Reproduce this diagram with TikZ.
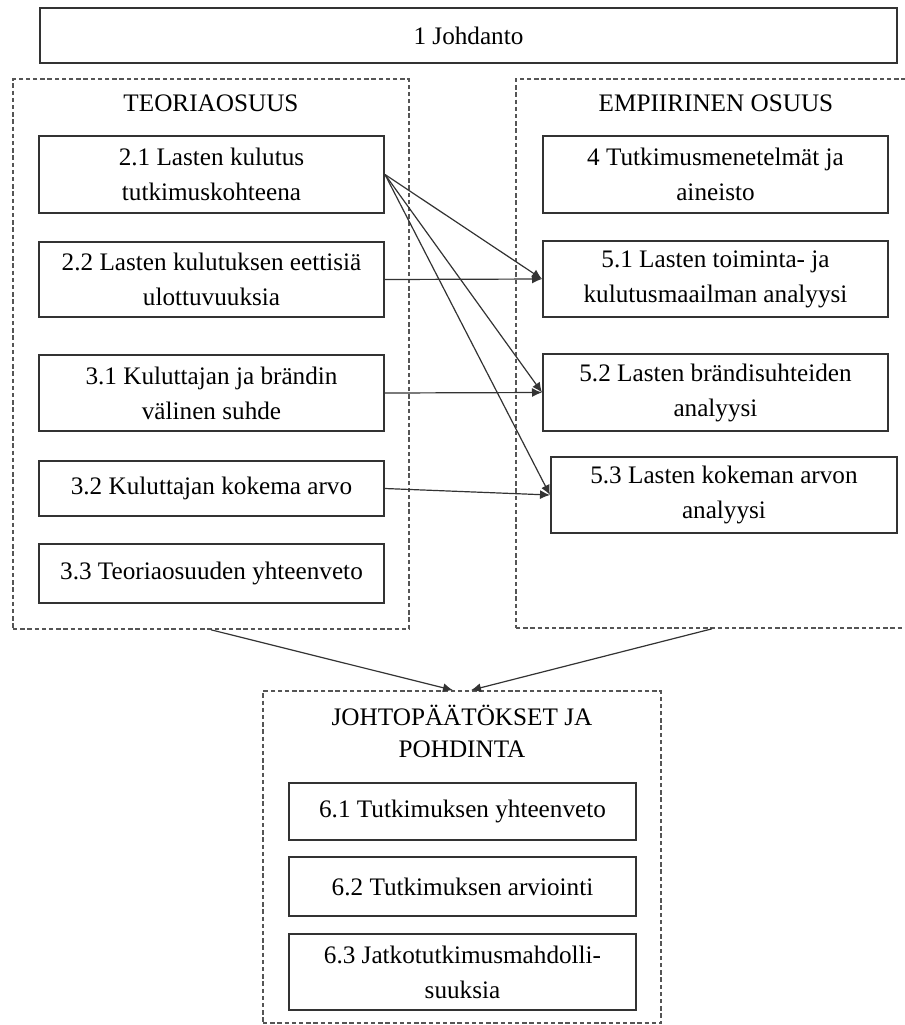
\documentclass[tikz,border=0pt]{standalone}
\usepackage{fontspec}
\setmainfont{Liberation Serif}
\usepackage{tikz}
\usetikzlibrary{calc, arrows.meta, positioning}
\definecolor{bd}{HTML}{333333}
\definecolor{dg}{HTML}{555555}

\begin{document}
\begin{tikzpicture}[x=0.5pt, y=-0.5pt,
			box/.style={draw=bd, line width=1pt, rectangle, align=center, inner sep=2pt, font=\fontsize{12.6}{17.5}\selectfont},
			part/.style={draw=dg, line width=0.8pt, dash pattern=on 2.2pt off 1.4pt, rectangle},
			title/.style={align=center, font=\fontsize{12.6}{16}\selectfont},
			link/.style={draw=bd, line width=0.6pt, -{Latex[length=5pt, width=4.5pt]}}
			]
			\useasboundingbox (0,0) rectangle (905,1025);
			
			\node[box, minimum width=428.5pt, minimum height=27.5pt] (intro) at (468.5,35.5) {1 Johdanto};
			
			% osiot
			\node[part, minimum width=198pt, minimum height=275pt] (theory) at (211,354) {};
			\node[part, minimum width=196pt, minimum height=274.5pt] (empiric) at (712,353.5) {};
			\node[part, minimum width=199pt, minimum height=166pt] (concl) at (462,857) {};
			
			\node[title] (ttheory) at (211,103) {TEORIAOSUUS};
			\node[title] (tempiric) at (716,103) {EMPIIRINEN OSUUS};
			\node[title] (tconcl) at (462,731) {JOHTOPÄÄTÖKSET JA\\POHDINTA};
			
			\node[box, minimum width=172.5pt, minimum height=38.5pt] (c21) at (211.5,174.5) {2.1 Lasten kulutus\\tutkimuskohteena};
			\node[box, minimum width=172.5pt, minimum height=37.5pt] (c22) at (211.5,279.5) {2.2 Lasten kulutuksen eettisiä\\ulottuvuuksia};
			\node[box, minimum width=172.5pt, minimum height=38pt] (c31) at (211.5,393) {3.1 Kuluttajan ja brändin\\välinen suhde};
			\node[box, minimum width=172.5pt, minimum height=27.5pt] (c32) at (211.5,488.5) {3.2 Kuluttajan kokema arvo};
			\node[box, minimum width=172.5pt, minimum height=29.5pt] (c33) at (211.5,573.5) {3.3 Teoriaosuuden yhteenveto};
			
			\node[box, minimum width=172.5pt, minimum height=38.5pt] (c4) at (715.5,174.5) {4 Tutkimusmenetelmät ja\\aineisto};
			\node[box, minimum width=172.5pt, minimum height=38pt] (c51) at (715.5,279) {5.1 Lasten toiminta- ja\\kulutusmaailman analyysi};
			\node[box, minimum width=172.5pt, minimum height=38.5pt] (c52) at (715.5,392.5) {5.2 Lasten brändisuhteiden\\analyysi};
			\node[box, minimum width=173pt, minimum height=38pt] (c53) at (724,495) {5.3 Lasten kokeman arvon\\analyysi};
			
			\node[box, minimum width=173.5pt, minimum height=28.5pt] (c61) at (462.5,811.5) {6.1 Tutkimuksen yhteenveto};
			\node[box, minimum width=173.5pt, minimum height=29.5pt] (c62) at (462.5,886.5) {6.2 Tutkimuksen arviointi};
			\node[box, minimum width=173.5pt, minimum height=38pt] (c63) at (462.5,972) {6.3 Jatkotutkimusmahdolli-\\suuksia};
			
			\draw[link] (c21.east) -- (c51.west);
			\draw[link] (c21.east) -- (c52.west);
			\draw[link] (c21.east) -- (c53.west);
			\draw[link] (c22.east) -- (c51.west);
			\draw[link] (c31.east) -- (c52.west);
			\draw[link] (c32.east) -- (c53.west);
			
			\coordinate (in1) at ($(concl.north)+(-9,0)$);
			\coordinate (in2) at ($(concl.north)+(9,0)$);
			
			\draw[link] (theory.south) -- (in1);
			\draw[link] (empiric.south) -- (in2);
			
\end{tikzpicture}
\end{document}
